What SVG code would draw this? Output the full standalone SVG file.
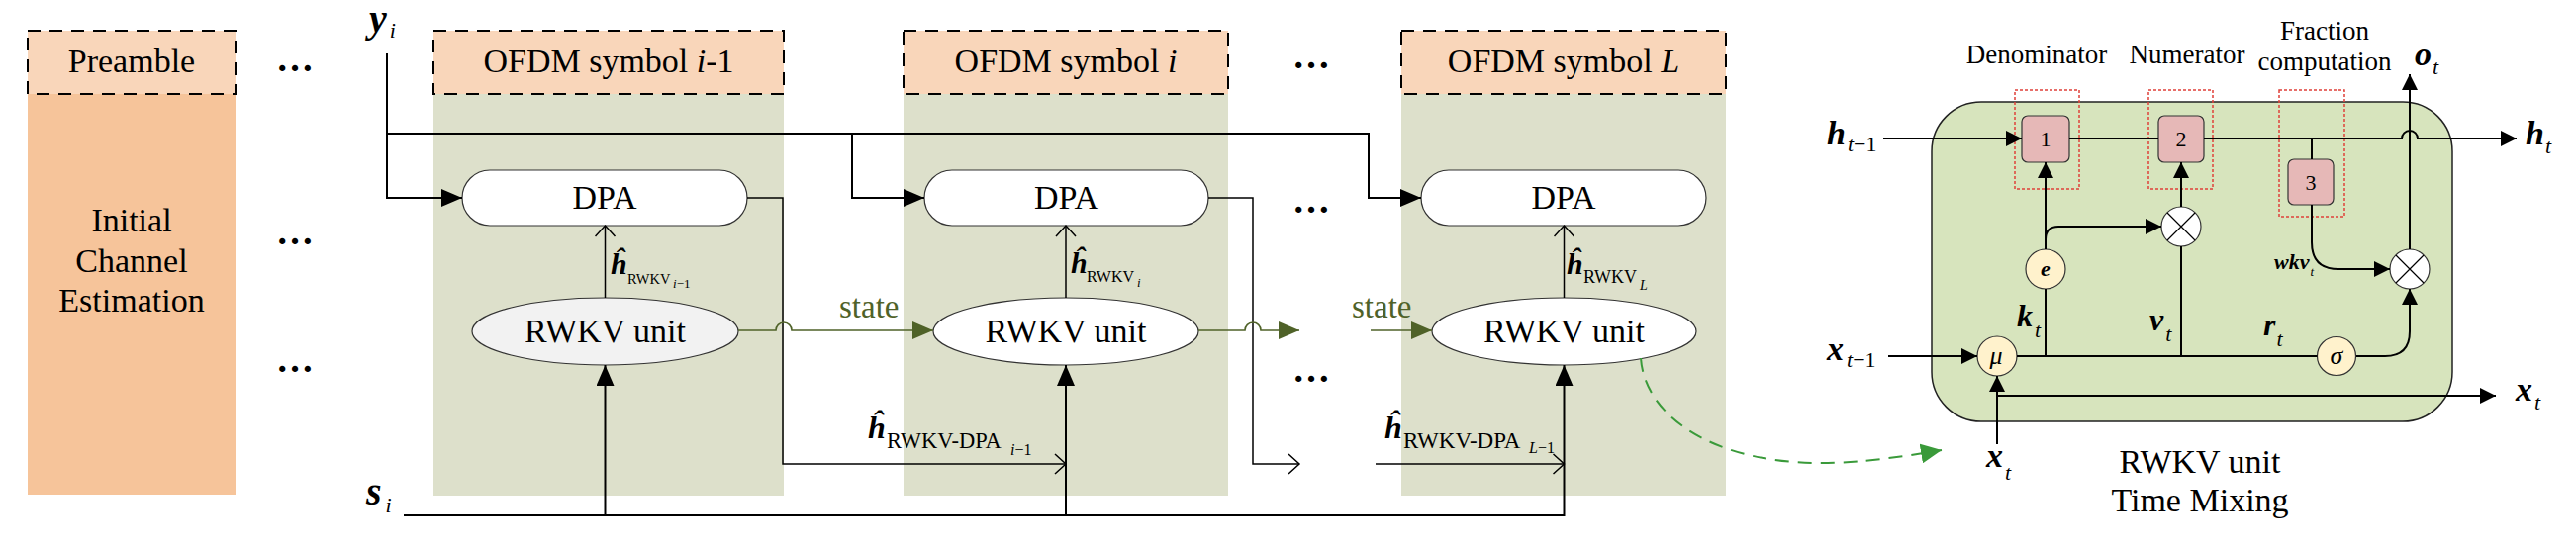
<svg xmlns="http://www.w3.org/2000/svg" width="2603" height="557" viewBox="0 0 2603 557">
<defs>
<style>
text{font-family:"Liberation Serif","Times New Roman",serif;fill:#000}
.c{text-anchor:middle}
.bi{font-weight:bold;font-style:italic}
.it{font-style:italic}
.hdr{fill:#F9D6BA;stroke:#000;stroke-width:2;stroke-dasharray:13,9}
.pre{fill:#F6C49A}
.body{fill:#DDE0CB}
.dpa{fill:#fff;stroke:#333;stroke-width:1.2}
.ell{fill:#fff;stroke:#333;stroke-width:1.2}
.ln{fill:none;stroke:#000;stroke-width:2}
.tl{fill:none;stroke:#000;stroke-width:1.5}
.st{fill:none;stroke:#4F6228;stroke-width:1.6}
.stt{fill:#4F6228;font-size:33px}
.big{font-size:34px}
.dots{font-size:38px;font-weight:bold}
.gb{fill:#D7E4BD;stroke:#222;stroke-width:1.5}
.pk{fill:#E6B8B7;stroke:#333;stroke-width:1.2}
.rd{fill:none;stroke:#E0403A;stroke-width:1.5;stroke-dasharray:3,2}
.yc{fill:#FFF2CC;stroke:#333;stroke-width:1.2}
.mc{fill:#fff;stroke:#333;stroke-width:1.2}
.rl{fill:none;stroke:#000;stroke-width:2}
.lab{font-size:27px}
</style>
<marker id="fa" markerUnits="userSpaceOnUse" markerWidth="22" markerHeight="18" refX="21" refY="9" orient="auto"><path d="M0,0 L21,9 L0,18 z" fill="#000"/></marker>
<marker id="oa" markerUnits="userSpaceOnUse" markerWidth="14" markerHeight="22" refX="12" refY="11" orient="auto"><path d="M1,1 L12,11 L1,21" fill="none" stroke="#000" stroke-width="1.5"/></marker>
<marker id="ga" markerUnits="userSpaceOnUse" markerWidth="22" markerHeight="18" refX="21" refY="9" orient="auto"><path d="M0,0 L21,9 L0,18 z" fill="#4F6228"/></marker>
<marker id="sa" markerUnits="userSpaceOnUse" markerWidth="17" markerHeight="16" refX="16" refY="8" orient="auto"><path d="M0,0 L16,8 L0,16 z" fill="#000"/></marker>
<marker id="da" markerUnits="userSpaceOnUse" markerWidth="22" markerHeight="20" refX="21" refY="10" orient="auto"><path d="M0,0 L21,10 L0,20 z" fill="#3A9A3A"/></marker>
</defs>
<rect width="2603" height="557" fill="#fff"/>

<g id="preamble">
<rect class="pre" x="28" y="95" width="210" height="405"/>
<rect class="hdr" x="28" y="31" width="210" height="64"/>
<text class="c big" x="133" y="73">Preamble</text>
<text class="c big" x="133" y="234">Initial</text>
<text class="c big" x="133" y="275">Channel</text>
<text class="c big" x="133" y="315">Estimation</text>
</g>

<g id="dots">
<text class="c dots" x="298" y="72">…</text>
<text class="c dots" x="298" y="247">…</text>
<text class="c dots" x="298" y="376">…</text>
<text class="c dots" x="1325" y="69">…</text>
<text class="c dots" x="1325" y="215">…</text>
<text class="c dots" x="1325" y="386">…</text>
</g>

<g id="col-i-1">
<rect class="body" x="438" y="95" width="354" height="406"/>
<rect class="hdr" x="438" y="31" width="354" height="64"/>
<text class="c big" x="615" y="73">OFDM symbol <tspan class="it">i</tspan>-1</text>
</g>
<g id="col-i">
<rect class="body" x="913" y="95" width="328" height="406"/>
<rect class="hdr" x="913" y="31" width="328" height="64"/>
<text class="c big" x="1077" y="73">OFDM symbol <tspan class="it">i</tspan></text>
</g>
<g id="col-L">
<rect class="body" x="1416" y="95" width="328" height="406"/>
<rect class="hdr" x="1416" y="31" width="328" height="64"/>
<text class="c big" x="1580" y="73">OFDM symbol <tspan class="it">L</tspan></text>
</g>

<g id="dpa-i-1"><rect class="dpa" x="467" y="172" width="288" height="56" rx="28"/><text class="c big" x="611" y="211">DPA</text></g>
<g id="dpa-i"><rect class="dpa" x="934" y="172" width="287" height="56" rx="28"/><text class="c big" x="1077.5" y="211">DPA</text></g>
<g id="dpa-L"><rect class="dpa" x="1436" y="172" width="288" height="56" rx="28"/><text class="c big" x="1580" y="211">DPA</text></g>

<g id="rwkv-i-1"><ellipse cx="611.5" cy="335" rx="134.5" ry="34" class="ell" style="fill:#F2F2F2"/><text class="c big" x="611.5" y="346">RWKV unit</text></g>
<g id="rwkv-i"><ellipse cx="1077" cy="335" rx="134" ry="34" class="ell"/><text class="c big" x="1077" y="346">RWKV unit</text></g>
<g id="rwkv-L"><ellipse cx="1580.5" cy="335" rx="133.5" ry="34" class="ell"/><text class="c big" x="1580.5" y="346">RWKV unit</text></g>

<g id="connectors">
<path class="ln" d="M391,54 V200 H467" marker-end="url(#fa)"/>
<path class="ln" d="M391,135 H1383 V200 H1436" marker-end="url(#fa)"/>
<path class="ln" d="M861,135 V200 H934" marker-end="url(#fa)"/>
<path class="tl" d="M755,200 H791 V469 H1077" marker-end="url(#oa)"/>
<path class="tl" d="M1221,200 H1266 V469 H1313" marker-end="url(#oa)"/>
<path class="tl" d="M1390,469 H1580.5" marker-end="url(#oa)"/>
<path class="tl" d="M611.5,301 V228" marker-end="url(#oa)"/>
<path class="tl" d="M1077,301 V228" marker-end="url(#oa)"/>
<path class="tl" d="M1580.5,301 V228" marker-end="url(#oa)"/>
<path class="ln" d="M408,521 H1580.5 V369" marker-end="url(#fa)"/>
<path class="ln" d="M611.5,521 V369" marker-end="url(#fa)"/>
<path class="ln" d="M1077,521 V369" marker-end="url(#fa)"/>
<path class="st" d="M746,334 H784 A8,8 0 0 1 800,334 H943" marker-end="url(#ga)"/>
<path class="st" d="M1211,334 H1258 A8,8 0 0 1 1274,334 H1313" marker-end="url(#ga)"/>
<path class="st" d="M1385,334 H1447" marker-end="url(#ga)"/>
<path d="M1658,362 C1662,420 1730,468 1840,468 C1880,468 1920,462 1962,455" fill="none" stroke="#3A9A3A" stroke-width="2" stroke-dasharray="14,9" marker-end="url(#da)"/>
</g>

<g id="main-labels">
<text x="373" y="32"><tspan class="bi" font-size="40">y</tspan><tspan class="it" font-size="22" dx="3" dy="6">i</tspan></text>
<text x="370" y="510"><tspan class="bi" font-size="40">s</tspan><tspan class="it" font-size="22" dx="4" dy="8">i</tspan></text>
<text class="stt" x="848" y="321">state</text>
<text class="stt" x="1366" y="321">state</text>
<text class="bi" font-size="30" x="617" y="277">ĥ</text>
<text font-size="14.5" x="634" y="287">RWKV</text>
<text font-size="13" x="680" y="291"><tspan class="it">i</tspan>−1</text>
<text class="bi" font-size="30" x="1082" y="276">ĥ</text>
<text font-size="16" x="1098" y="285">RWKV</text>
<text class="it" font-size="13" x="1149" y="290">i</text>
<text class="bi" font-size="30" x="1583" y="277">ĥ</text>
<text font-size="18" x="1600" y="286">RWKV</text>
<text class="it" font-size="14" x="1657" y="293">L</text>
<text class="bi" font-size="32" x="877" y="443">ĥ</text>
<text font-size="22.5" x="896" y="453">RWKV-DPA</text>
<text font-size="16" x="1021" y="460"><tspan class="it">i</tspan>−1</text>
<text class="bi" font-size="32" x="1399" y="443">ĥ</text>
<text font-size="23" x="1418" y="453">RWKV-DPA</text>
<text font-size="16" x="1545" y="458"><tspan class="it">L</tspan>−1</text>
</g>

<g id="time-mixing">
<rect class="gb" x="1952" y="103" width="526" height="323" rx="50"/>
<g id="denominator"><rect class="rd" x="2036" y="91" width="65" height="100"/><rect class="pk" x="2043" y="117" width="48" height="47" rx="6"/><text class="c" font-size="22" x="2067" y="148">1</text></g>
<g id="numerator"><rect class="rd" x="2171" y="91" width="65" height="100"/><rect class="pk" x="2181" y="117" width="46" height="47" rx="6"/><text class="c" font-size="22" x="2204" y="148">2</text></g>
<g id="fraction"><rect class="rd" x="2303" y="91" width="66" height="128"/><rect class="pk" x="2312" y="161" width="46" height="46" rx="6"/><text class="c" font-size="22" x="2335" y="192">3</text></g>
<g id="mu"><circle class="yc" cx="2018" cy="360" r="20"/><text class="c it" font-size="26" x="2017" y="368">μ</text></g>
<g id="e"><circle class="yc" cx="2067" cy="272" r="20"/><text class="c bi" font-size="22" x="2067" y="279">e</text></g>
<g id="sigma"><circle class="yc" cx="2361" cy="360" r="19.5"/><text class="c it" font-size="26" x="2361" y="368">σ</text></g>
<g id="mul2"><circle class="mc" cx="2204" cy="229" r="20"/><path class="tl" d="M2190,215 L2218,243 M2218,215 L2190,243" style="stroke-width:1.2"/></g>
<g id="mul3"><circle class="mc" cx="2435" cy="272" r="20"/><path class="tl" d="M2421,258 L2449,286 M2449,258 L2421,286" style="stroke-width:1.2"/></g>
<g id="tm-connectors">
<path class="rl" d="M1903,140 H2043" marker-end="url(#sa)"/>
<path class="rl" d="M2091,140 H2181"/>
<path class="rl" d="M2227,140 H2427 A8,8 0 0 1 2443,140 H2543" marker-end="url(#sa)"/>
<path class="rl" d="M2336,140 V161"/>
<path class="rl" d="M2336,207 V245 Q2336,272 2363,272 H2415" marker-end="url(#sa)"/>
<path class="rl" d="M2435,252 V75" marker-end="url(#sa)"/>
<path class="rl" d="M2381,360 H2410 Q2435,360 2435,335 V292" marker-end="url(#sa)"/>
<path class="rl" d="M1908,360 H1998" marker-end="url(#sa)"/>
<path class="rl" d="M2038,360 H2341.5"/>
<path class="rl" d="M2018,449 V380" marker-end="url(#sa)"/>
<path class="rl" d="M2018,400 H2522" marker-end="url(#sa)"/>
<path class="rl" d="M2067,360 V292"/>
<path class="rl" d="M2067,252 V164" marker-end="url(#sa)"/>
<path class="rl" d="M2067,242 Q2067,229 2080,229 H2184" marker-end="url(#sa)"/>
<path class="rl" d="M2204,209 V164" marker-end="url(#sa)"/>
<path class="rl" d="M2204,360 V249"/>
</g>
<text class="c lab" x="2058" y="64">Denominator</text>
<text class="c lab" x="2210" y="64">Numerator</text>
<text class="c lab" x="2349" y="40">Fraction</text>
<text class="c lab" x="2349" y="71">computation</text>
<text x="1846" y="146"><tspan class="bi" font-size="34">h</tspan><tspan font-size="22" dx="2" dy="7"><tspan class="it">t</tspan>−1</tspan></text>
<text x="1846" y="364"><tspan class="bi" font-size="34">x</tspan><tspan font-size="22" dx="3" dy="7"><tspan class="it">t</tspan>−1</tspan></text>
<text x="2552" y="146"><tspan class="bi" font-size="34">h</tspan><tspan class="it" font-size="22" dx="1" dy="9">t</tspan></text>
<text x="2542" y="405"><tspan class="bi" font-size="34">x</tspan><tspan class="it" font-size="22" dx="2" dy="9">t</tspan></text>
<text x="2440" y="66"><tspan class="bi" font-size="34">o</tspan><tspan class="it" font-size="22" dx="1" dy="9">t</tspan></text>
<text x="2007" y="472"><tspan class="bi" font-size="34">x</tspan><tspan class="it" font-size="22" dx="2" dy="13">t</tspan></text>
<text x="2038" y="330"><tspan class="bi" font-size="32">k</tspan><tspan class="it" font-size="22" dx="2" dy="11">t</tspan></text>
<text x="2172" y="334"><tspan class="bi" font-size="32">v</tspan><tspan class="it" font-size="22" dx="2" dy="11">t</tspan></text>
<text x="2287" y="339"><tspan class="bi" font-size="32">r</tspan><tspan class="it" font-size="22" dx="1" dy="11">t</tspan></text>
<text x="2298" y="272"><tspan class="bi" font-size="22">wkv</tspan><tspan class="it" font-size="13" dx="1" dy="7">t</tspan></text>
<text class="c big" x="2223" y="478">RWKV unit</text>
<text class="c big" x="2223" y="517">Time Mixing</text>
</g>
</svg>
